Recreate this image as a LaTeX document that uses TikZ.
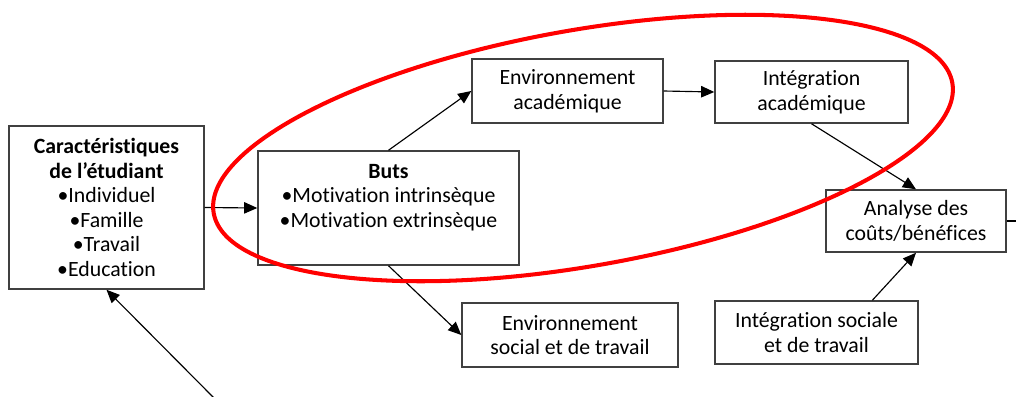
\documentclass[tikz,border=0pt]{standalone}
\usepackage{fontspec}
\setmainfont{Carlito}[Ligatures=NoCommon]
\usetikzlibrary{arrows.meta}

\begin{document}
\begin{tikzpicture}[x=0.02cm, y=-0.02cm, font=\fontsize{12.4}{14}\selectfont]
\useasboundingbox (0,0) rectangle (1016,396);

\tikzset{box/.style={draw=black!75, line width=0.85pt, fill=white, align=center, inner sep=0pt}}
\node[box, minimum width=3.9cm, minimum height=3.26cm] (carac) at (106.5, 207.5) {\textbf{Caractéristiques}\\ \textbf{de l’étudiant}\\ \textbullet Individuel\\ \textbullet Famille\\ \textbullet Travail\\ \textbullet Education};
\node[box, minimum width=5.22cm, minimum height=2.28cm] (buts) at (388.5, 208.0) {\textbf{Buts}\\ \textbullet Motivation intrinsèque\\ \textbullet Motivation extrinsèque\\ \mbox{}};
\node[box, minimum width=3.82cm, minimum height=1.28cm] (envacad) at (567.5, 91.0) {Environnement\\ académique};
\node[box, minimum width=3.86cm, minimum height=1.24cm] (intacad) at (811.5, 92.0) {Intégration\\ académique};
\node[box, minimum width=3.6cm, minimum height=1.24cm] (analyse) at (916.0, 221.0) {Analyse des\\ coûts/bénéfices};
\node[box, minimum width=4.32cm, minimum height=1.28cm] (envsoc) at (570.0, 335.0) {Environnement\\ social et de travail};
\node[box, minimum width=4.06cm, minimum height=1.26cm] (intsoc) at (816.5, 332.5) {Intégration sociale\\ et de travail};

\coordinate (lowend) at (214, 398);
\coordinate (rightend) at (1020, 221);

\tikzset{flow/.style={-{Triangle[length=7.5pt, width=6.5pt]}, line width=0.65pt}}
\path (carac.east) edge [flow] (buts.west);
\path (buts.north) edge [flow] (envacad.west);
\path (envacad.east) edge [flow] (intacad.west);
\path (intacad.south) edge [flow] (analyse.north);
\path (buts.south) edge [flow] (envsoc.west);
\path (intsoc.30) edge [flow] (analyse.south);
\path (lowend) edge [flow] (carac.south);
\draw[line width=0.65pt] (analyse.east) -- (rightend);

% ellipse round the academic path
\draw[red, line width=2.3pt, rotate around={10:(583,148)}] (583,148) ellipse [x radius=375, y radius=118];
\end{tikzpicture}
\end{document}
